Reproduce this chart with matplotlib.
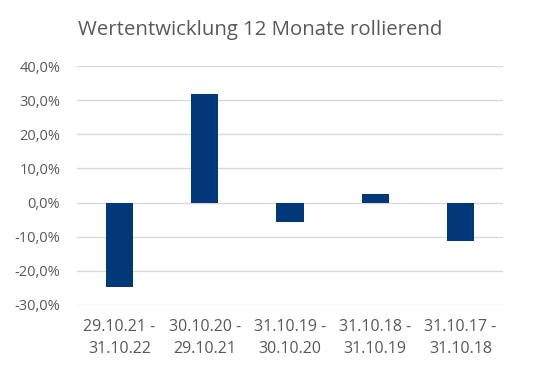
import matplotlib.pyplot as plt
from matplotlib.ticker import FuncFormatter

plt.rcParams['font.family'] = ['Open Sans', 'DejaVu Sans']

periods = ["29.10.21 -\n31.10.22", "30.10.20 -\n29.10.21", "31.10.19 -\n30.10.20",
           "31.10.18 -\n31.10.19", "31.10.17 -\n31.10.18"]
returns = [-24.7, 31.7, -5.8, 2.6, -11.2]
yticks = [-30, -20, -10, 0, 10, 20, 30, 40]

fig = plt.figure(figsize=(5.4, 3.73), dpi=100)
ax = fig.add_axes([77 / 540, 1 - 305 / 373, 426 / 540, 239 / 373])

ax.bar(range(len(returns)), returns, width=0.32, color='#003878', zorder=3)
ax.set_xlim(-0.5, len(returns) - 0.5)
ax.set_ylim(-30, 40)
ax.set_yticks(yticks)
ax.yaxis.set_major_formatter(FuncFormatter(lambda v, p: f"{v:.1f}%".replace('.', ',')))
ax.set_xticks(range(len(returns)))
ax.set_xticklabels(periods, fontsize=11.5, linespacing=1.5)
ax.grid(axis='y', color='#d9d9d9', linewidth=1, zorder=0)
for s in ax.spines.values():
    s.set_visible(False)
ax.tick_params(length=0, colors='#595959')
ax.tick_params(axis='y', labelsize=10.5, pad=12)
ax.tick_params(axis='x', pad=10)

fig.text(78 / 540, 1 - 30 / 373, "Wertentwicklung 12 Monate rollierend", ha='left', va='center',
         fontsize=14.7, color='#595959')

fig.savefig('out.png')
